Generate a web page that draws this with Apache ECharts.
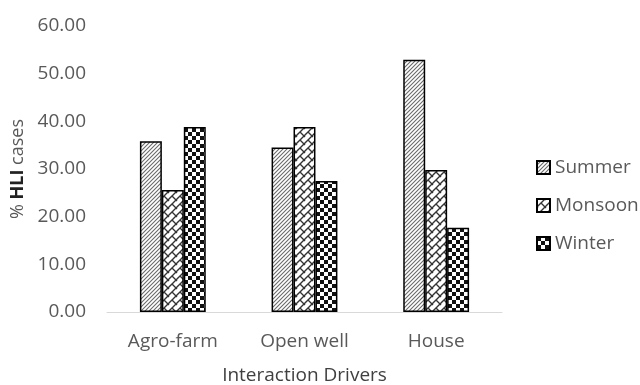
<!DOCTYPE html>
<html>
<head>
<meta charset="utf-8">
<script src="https://cdn.jsdelivr.net/npm/echarts@6/dist/echarts.min.js"></script>
<style>
  html, body { margin: 0; padding: 0; background: #fff; }
  #chart { width: 640px; height: 385px; }
</style>
</head>
<body>
<div id="chart"></div>
<script>
// Interaction drivers and seasonal share of HLI cases (%)
const categories = ['Agro-farm', 'Open well', 'House'];
const seasons = ['Summer', 'Monsoon', 'Winter'];
const summer = [35.8, 34.5, 52.9];
const monsoon = [25.6, 38.8, 29.8];
const winter = [38.8, 27.5, 17.7];
const yTicks = [0, 10, 20, 30, 40, 50, 60];

// Tile builders for the monochrome fill patterns
function tile(size, draw) {
  const c = document.createElement('canvas');
  c.width = size; c.height = size;
  const g = c.getContext('2d');
  g.fillStyle = '#fff';
  g.fillRect(0, 0, size, size);
  draw(g, size);
  return { image: c, repeat: 'repeat' };
}

// fine diagonal hatching
const hatch = tile(4, function (g, s) {
  g.strokeStyle = '#6a6a6a';
  g.lineWidth = 1.1;
  g.beginPath();
  g.moveTo(-1, s + 1); g.lineTo(s + 1, -1);
  g.moveTo(-1, 1); g.lineTo(1, -1);
  g.moveTo(s - 1, s + 1); g.lineTo(s + 1, s - 1);
  g.stroke();
});

// diagonal brick
const brick = tile(8, function (g, s) {
  g.strokeStyle = '#333';
  g.lineWidth = 1.4;
  g.beginPath();
  g.moveTo(-1, s + 1); g.lineTo(s + 1, -1);
  g.moveTo(4, 4); g.lineTo(8, 8);
  g.moveTo(0, 0); g.lineTo(1, 1);
  g.stroke();
});

// checkerboard
const checker = tile(8, function (g) {
  g.fillStyle = '#111';
  g.fillRect(0, 0, 4, 4);
  g.fillRect(4, 4, 4, 4);
});

const fills = [hatch, brick, checker];
const values = [summer, monsoon, winter];
const font = 'Open Sans, sans-serif';

const chart = echarts.init(document.getElementById('chart'), null, { renderer: 'canvas' });

chart.setOption({
  animation: false,
  backgroundColor: '#fff',
  textStyle: { fontFamily: font },
  grid: { left: 107, right: 138, top: 26, bottom: 73, outerBoundsMode: 'none', containLabel: false },
  legend: {
    orient: 'vertical',
    left: 531,
    top: 153,
    itemWidth: 13,
    itemHeight: 13,
    itemGap: 19,
    icon: 'rect',
    textStyle: { color: '#595959', fontSize: 19, fontFamily: font },
    data: seasons
  },
  xAxis: {
    type: 'category',
    data: categories,
    axisLine: { show: true, lineStyle: { color: '#d9d9d9', width: 1 } },
    axisTick: { show: false },
    axisLabel: { color: '#595959', fontSize: 19, margin: 20 },
    name: 'Interaction Drivers',
    nameLocation: 'middle',
    nameGap: 54,
    nameTextStyle: { color: '#404040', fontSize: 19 }
  },
  yAxis: {
    type: 'value',
    min: yTicks[0],
    max: yTicks[yTicks.length - 1],
    interval: 10,
    splitLine: { show: false },
    axisLine: { show: false },
    axisTick: { show: false },
    axisLabel: {
      color: '#595959',
      fontSize: 19,
      margin: 21,
      formatter: function (v) { return v.toFixed(2); }
    },
    name: '{a|% }{b|HLI}{a| cases}',
    nameLocation: 'middle',
    nameGap: 78,
    nameRotate: 90,
    nameTextStyle: {
      rich: {
        a: { color: '#595959', fontSize: 18, fontFamily: font },
        b: { color: '#222', fontSize: 18, fontWeight: 'bold', fontFamily: font }
      }
    }
  },
  series: seasons.map(function (name, i) {
    return {
      name: name,
      type: 'bar',
      data: values[i],
      barGap: '0%',
      barCategoryGap: '50%',
      itemStyle: { color: fills[i], borderColor: '#000', borderWidth: 1.5 }
    };
  })
});
</script>
</body>
</html>
